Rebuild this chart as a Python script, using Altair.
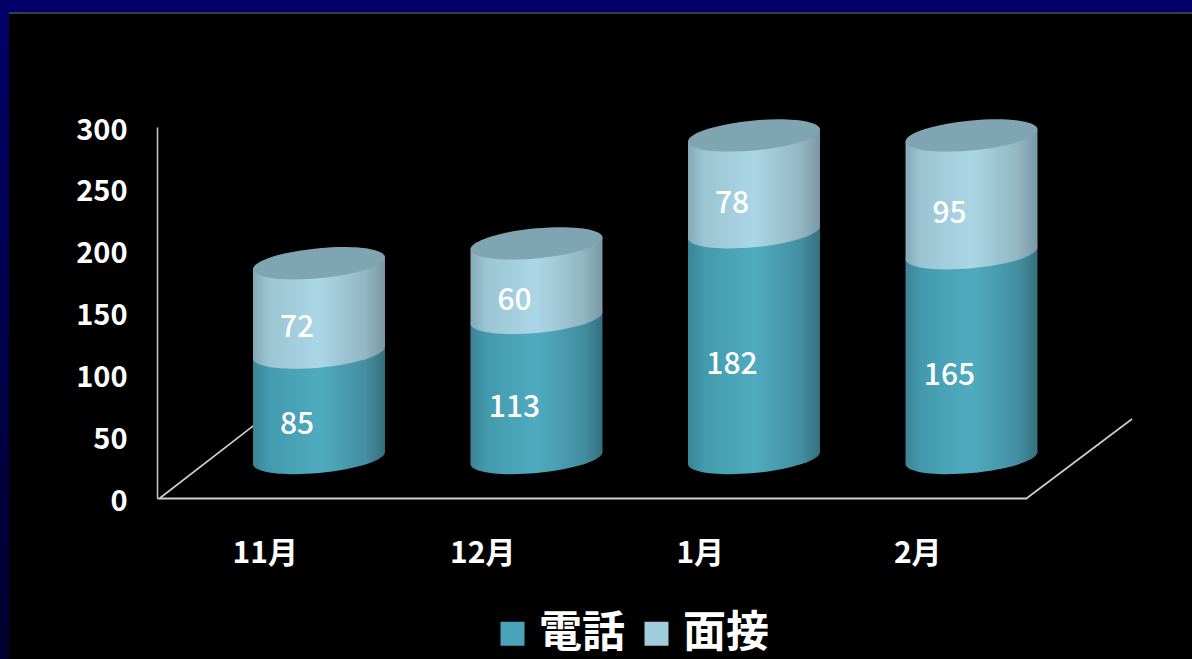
import altair as alt
import pandas as pd

# Monthly counts per consultation type
months = ["11月", "12月", "1月", "2月"]
phone = [85, 113, 182, 165]
interview = [72, 60, 78, 95]
series_names = ["電話", "面接"]
series_colors = ["#4aa3b8", "#a0ccdb"]
y_ticks = [0, 50, 100, 150, 200, 250, 300]

W, H = 870, 371
FONT = "Noto Sans CJK JP"
FONT_MEDIUM = "Noto Sans CJK JP Medium, Noto Sans CJK JP"

# The cylinders sit on a floor pushed back from the axis plane
CYL_X = alt.Scale(domain=[-0.2448, 3.7552], nice=False, zero=False)
CYL_Y = alt.Scale(domain=[-32.2, 266.8], nice=False, zero=False)
HALF_WIDTH = 0.3034   # half a cylinder, in category units
TILT = 4.8            # rise of the rim across half a cylinder, in value units
CYL_SIZE = 132 ** 2


def rim_path(k=0.09, b=0.228):
    """Closed tilted ellipse spanning x = -1..1, right side raised, as four Bezier arcs."""
    c = 0.5523
    pt = lambda u, v: f"{u:.4f},{-k * u + b * v:.4f}"
    return (
        f"M{pt(1, 0)}"
        f"C{pt(1, c)} {pt(c, 1)} {pt(0, 1)}"
        f"C{pt(-c, 1)} {pt(-1, c)} {pt(-1, 0)}"
        f"C{pt(-1, -c)} {pt(-c, -1)} {pt(0, -1)}"
        f"C{pt(c, -1)} {pt(1, -c)} {pt(1, 0)}Z"
    )


def shade(stops):
    return alt.Gradient(
        gradient="linear", x1=0, x2=1, y1=0, y2=0,
        stops=[alt.GradientStop(offset=o, color=c) for o, c in stops],
    )


TEAL = shade([(0, "#3b8496"), (0.12, "#439aad"), (0.5, "#4fabc0"), (0.85, "#448fa2"), (1, "#35707f")])
LIGHT = shade([(0, "#86a9b6"), (0.12, "#9cc5d3"), (0.5, "#abd6e6"), (0.85, "#93b6c3"), (1, "#7a98a5")])
CAP = "#7fa5b2"
NAVY_DOWN = alt.Gradient(
    gradient="linear", x1=0, x2=0, y1=0, y2=1,
    stops=[alt.GradientStop(offset=0, color="#000068"), alt.GradientStop(offset=1, color="#000030")],
)

# Body edges and rim centres derived from the stacked values
bodies, rims, labels = [], [], []
for i, (m, p, n) in enumerate(zip(months, phone, interview)):
    centre = i + 0.5
    total = p + n
    for name, lo, hi in (("phone", 0, p), ("interview", p, total)):
        for side in (-1, 1):
            bodies.append({
                "month": m, "part": name,
                "pos": centre + side * HALF_WIDTH,
                "low": lo + side * TILT,
                "high": hi + side * TILT,
            })
    rims.append({"month": m, "pos": centre, "base": 0, "split": p, "total": total})
    labels.append({"pos": centre, "value": p, "mid": p / 2})
    labels.append({"pos": centre, "value": n, "mid": p + n / 2})

bodies = pd.DataFrame(bodies)
rims = pd.DataFrame(rims)
labels = pd.DataFrame(labels)
axis_rows = pd.DataFrame({"month": months, "v": phone})
legend_rows = pd.DataFrame({"series": series_names})


def body(part, fill):
    return (
        alt.Chart(bodies[bodies.part == part])
        .mark_area(fill=fill, orient="vertical", opacity=1)
        .encode(
            x=alt.X("pos:Q", scale=CYL_X, axis=None),
            y=alt.Y("low:Q", scale=CYL_Y, axis=None, stack=None),
            y2="high:Q",
            detail="month:N",
        )
    )


def rim(field, fill):
    return (
        alt.Chart(rims)
        .mark_point(shape=rim_path(), size=CYL_SIZE, filled=True, fill=fill, opacity=1, strokeWidth=0)
        .encode(
            x=alt.X("pos:Q", scale=CYL_X, axis=None),
            y=alt.Y(f"{field}:Q", scale=CYL_Y, axis=None),
        )
    )


def edge(**pos):
    return alt.Chart(axis_rows.head(1)).mark_rule(color="#d0d0d0", strokeWidth=1.6).encode(
        **{k: alt.value(v) for k, v in pos.items()}
    )


# Slide frame: navy band along the top and left, thin grey line under it
frame = [
    alt.Chart(axis_rows.head(1)).mark_rect(color="#000068").encode(
        x=alt.value(-157), x2=alt.value(W + 165), y=alt.value(-127), y2=alt.value(-114.5)
    ),
    alt.Chart(axis_rows.head(1)).mark_rect(fill=NAVY_DOWN).encode(
        x=alt.value(-157), x2=alt.value(-148), y=alt.value(-127), y2=alt.value(H + 162)
    ),
    alt.Chart(axis_rows.head(1)).mark_rule(color="#777777", strokeWidth=1).encode(
        x=alt.value(-148), x2=alt.value(W + 165), y=alt.value(-114)
    ),
]

axes = alt.Chart(axis_rows).mark_point(opacity=0).encode(
    x=alt.X(
        "month:N", sort=months, title=None,
        axis=alt.Axis(
            labelAngle=0, ticks=False, labelPadding=40, labelOffset=-1, labelFontSize=30, labelFont=FONT,
            labelFontWeight=700, labelColor="#ffffff", domainColor="#d0d0d0", domainWidth=2, grid=False,
        ),
    ),
    y=alt.Y(
        "v:Q", title=None, scale=alt.Scale(domain=[0, 300], nice=False),
        axis=alt.Axis(
            values=y_ticks, ticks=False, labelPadding=30, labelOffset=3, labelFontSize=29, labelFont=FONT,
            labelFontWeight=700, labelColor="#ffffff", domainColor="#c0c0c0", domainWidth=1.6, grid=False,
        ),
    ),
)

value_text = alt.Chart(labels).mark_text(
    color="#ffffff", font=FONT_MEDIUM, fontSize=30, fontWeight=500, dx=-22, dy=20
).encode(
    x=alt.X("pos:Q", scale=CYL_X, axis=None),
    y=alt.Y("mid:Q", scale=CYL_Y, axis=None),
    text="value:Q",
)

legend_layer = alt.Chart(legend_rows).mark_square(size=0, opacity=0).encode(
    color=alt.Color(
        "series:N",
        scale=alt.Scale(domain=series_names, range=series_colors),
        legend=alt.Legend(
            title=None, orient="none", legendX=334, legendY=485, direction="horizontal", columns=2,
            symbolType="square", symbolSize=576, symbolOpacity=1, symbolStrokeWidth=0,
            labelFont=FONT, labelFontSize=43, labelFontWeight=700, labelColor="#ffffff",
            labelOffset=5, columnPadding=10, labelLimit=200,
        ),
    )
)

chart = (
    alt.layer(
        *frame,
        axes,
        edge(x=3, x2=105, y=H, y2=H - 79),
        edge(x=W, x2=W + 105, y=H, y2=H - 79),
        body("phone", TEAL),
        rim("base", TEAL),
        body("interview", LIGHT),
        rim("split", LIGHT),
        rim("total", CAP),
        value_text,
        legend_layer,
    )
    .resolve_scale(x="independent", y="independent", color="independent")
    .properties(
        width=W,
        height=H,
        background="#000000",
        padding={"left": 157, "top": 127, "right": 165, "bottom": 161},
        autosize=alt.AutoSizeParams(type="none"),
    )
    .configure_view(stroke=None)
)

chart.save("out.html", embed_options={"renderer": "svg", "actions": False})
